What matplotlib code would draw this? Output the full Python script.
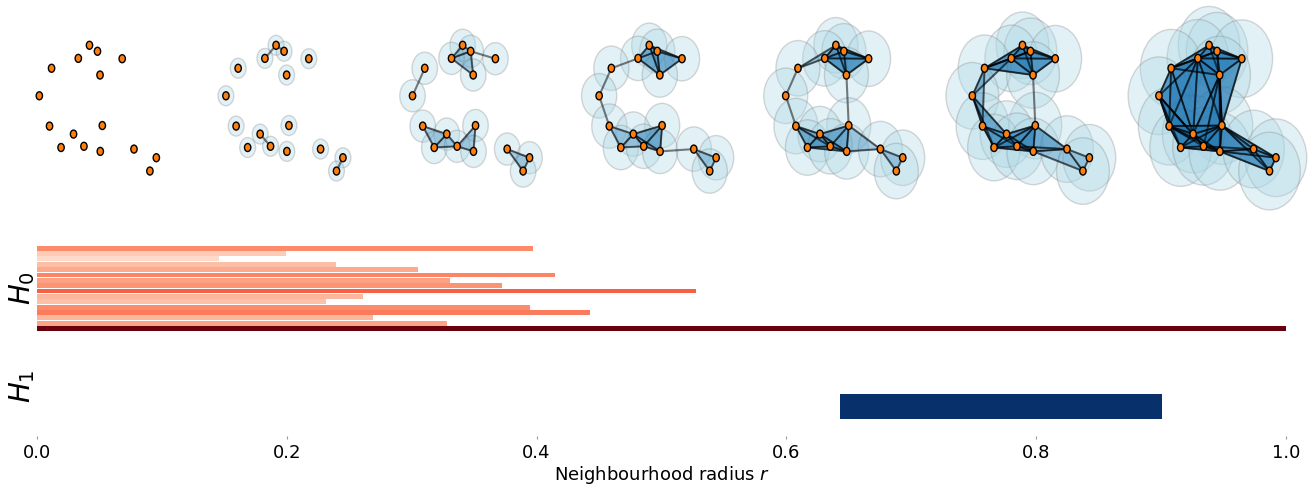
import numpy as np
import matplotlib.pyplot as plt
from matplotlib.patches import Circle, Polygon
from matplotlib.colors import to_rgba
from itertools import combinations

# point cloud
pts_x = [0.570, 0.661, 0.443, 0.942, 0.139, 0.690, 0.000, 0.116,
         0.716, 0.389, 0.247, 0.507, 0.693, 1.076, 1.330, 1.257]
pts_y = [1.133, 1.079, 1.015, 1.012, 0.926, 0.865, 0.678, 0.405,
         0.410, 0.333, 0.212, 0.223, 0.177, 0.198, 0.120, 0.000]

# neighbourhood radius of each snapshot
radii = [0.0, 0.09, 0.145, 0.2, 0.25, 0.3, 0.35]

# persistence barcode
h0_birth = [0.0] * 16
h0_death = [0.397, 0.199, 0.146, 0.239, 0.305, 0.415, 0.331, 0.372,
            0.528, 0.261, 0.231, 0.395, 0.443, 0.269, 0.328, np.inf]
h1_birth = [0.643]
h1_death = [0.901]

W, H = 1310, 486
fig = plt.figure(figsize=(W / 100, H / 100), dpi=100)

X = np.array(pts_x)
Y = np.array(pts_y)
D = np.hypot(X[:, None] - X[None, :], Y[:, None] - Y[None, :])
n_pts = len(X)

pw = 186.6
face = to_rgba('C0', 0.3)
for k, r in enumerate(radii):
    ax = fig.add_axes([k * pw / W, 1 - 215 / H, pw / W, 215 / H])
    ax.set_xlim(-0.447, 1.674)
    ax.set_ylim(-0.396, 1.541)
    ax.axis('off')

    if r > 0:
        for x, y in zip(X, Y):
            ax.add_patch(Circle((x, y), r, facecolor=to_rgba('lightblue', 0.35),
                                edgecolor=(0.5, 0.5, 0.5, 0.3), lw=1, zorder=1,
                                clip_on=False))

    adj = D <= 2 * r
    for i, j, l in combinations(range(n_pts), 3):
        if adj[i, j] and adj[j, l] and adj[i, l]:
            ax.add_patch(Polygon([(X[i], Y[i]), (X[j], Y[j]), (X[l], Y[l])],
                                 closed=True, facecolor=face,
                                 edgecolor=(0, 0, 0, 0.3), lw=1, zorder=2))
    for i, j in combinations(range(n_pts), 2):
        if adj[i, j]:
            ax.plot([X[i], X[j]], [Y[i], Y[j]], color='k', alpha=0.5, lw=1.5,
                    zorder=3)

    for x, y in zip(X, Y):
        ax.add_patch(Circle((x, y), 0.036, facecolor='C1', edgecolor='k',
                            lw=1, zorder=4))

# H0 barcode
ax0 = fig.add_axes([37 / W, (H - 331.3) / H, 1249 / W, 85.8 / H])
n0 = len(h0_death)
d0 = np.minimum(np.array(h0_death), 1.0)
b0 = np.array(h0_birth)
ypos = np.arange(n0)[::-1]
ax0.barh(ypos, d0 - b0, left=b0, height=0.9, color=plt.cm.Reds(d0 - b0))
ax0.set_xlim(0, 1)
ax0.set_ylim(-0.5, n0 - 0.5)
ax0.set_xticks([])
ax0.set_yticks([])
for s in ax0.spines.values():
    s.set_visible(False)
ax0.set_ylabel('$H_0$', fontsize=20, labelpad=0)

# H1 barcode
ax1 = fig.add_axes([37 / W, 50 / H, 1249 / W, 100 / H])
b1 = np.array(h1_birth)
d1 = np.array(h1_death)
ax1.barh(np.arange(len(b1)), d1 - b1, left=b1, height=1.0,
         color=plt.cm.Blues((d1 - b1) / (d1 - b1).max()))
ax1.set_xlim(0, 1)
ax1.set_ylim(-1.2, 2.8)
ax1.set_yticks([])
ax1.set_xticks(np.arange(0, 1.01, 0.2))
ax1.tick_params(axis='x', length=2, color='0.6', labelsize=13)
for s in ax1.spines.values():
    s.set_visible(False)
ax1.set_ylabel('$H_1$', fontsize=20, labelpad=0)
ax1.set_xlabel('Neighbourhood radius $r$', fontsize=13, labelpad=2)

fig.savefig('out.png', dpi=100)
